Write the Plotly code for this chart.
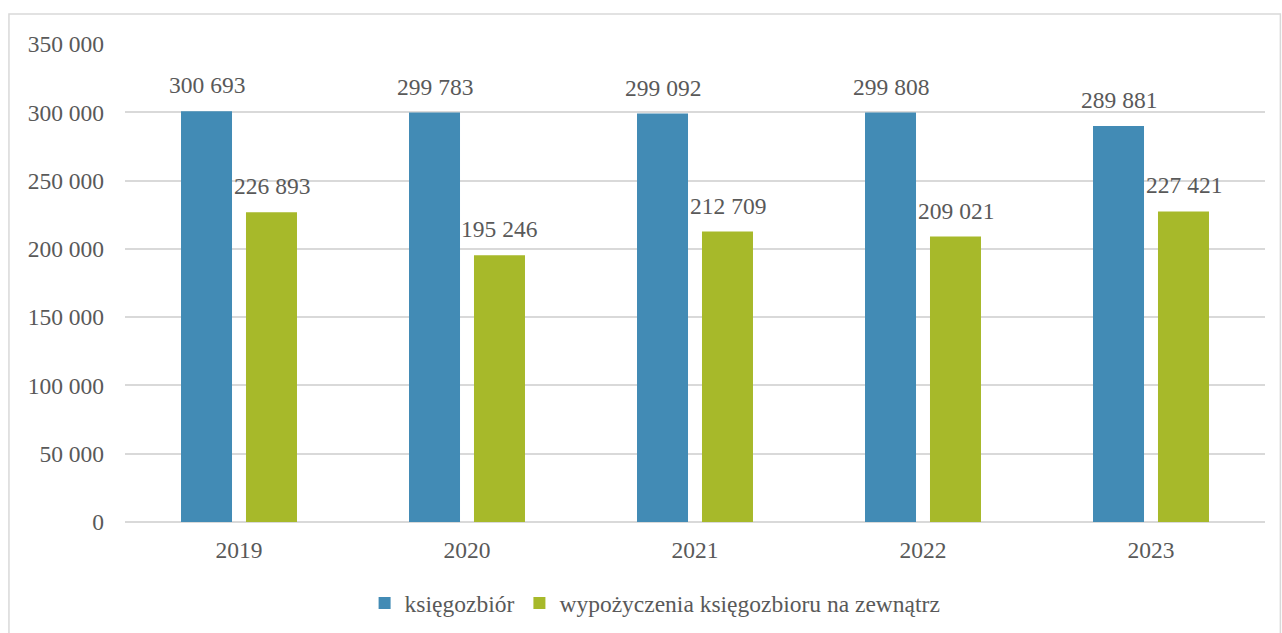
import plotly.graph_objects as go

years = ["2019", "2020", "2021", "2022", "2023"]
ksiegozbior = [300693, 299783, 299092, 299808, 289881]
wypozyczenia = [226893, 195246, 212709, 209021, 227421]
series_names = ["księgozbiór", "wypożyczenia księgozbioru na zewnątrz"]
colors = ["#428BB5", "#A7B92A"]

FONT = "Liberation Serif, Times New Roman, serif"
TXT = "#595959"
FS = 23.5

fig = go.Figure()
for name, vals, col in zip(series_names, [ksiegozbior, wypozyczenia], colors):
    fig.add_trace(go.Bar(x=years, y=vals, name=name, marker=dict(color=col, line=dict(width=0))))

def fmt(v):
    return f"{v:,}".replace(",", " ")

for vals, shift in [(ksiegozbior, -32.5), (wypozyczenia, 32.5)]:
    for i, v in enumerate(vals):
        fig.add_annotation(x=i, y=v, text=fmt(v), showarrow=False, xshift=shift,
                           yanchor="bottom", yshift=11,
                           font=dict(family=FONT, size=FS, color=TXT))

fig.add_shape(type="rect", xref="paper", yref="paper",
              x0=-0.1018, x1=1.0135, y0=-0.3, y1=1.0628,
              line=dict(color="#D9D9D9", width=1.5), fillcolor="rgba(0,0,0,0)", layer="below")

fig.update_layout(
    width=1282, height=633,
    margin=dict(l=125, r=17, t=44, b=111, autoexpand=False),
    paper_bgcolor="white", plot_bgcolor="white",
    barmode="group", bargap=0.43, bargroupgap=0.215,
    separators=", ",
    font=dict(family=FONT, size=FS, color=TXT),
    showlegend=True,
    legend=dict(orientation="h", x=0.465, xanchor="center", y=-0.17, yanchor="middle",
                font=dict(family=FONT, size=FS, color=TXT), itemwidth=30,
                traceorder="normal"),
    xaxis=dict(type="category", range=[-0.5, len(years) - 0.5], showgrid=False,
               showline=False, ticks="", ticklabelstandoff=11,
               tickfont=dict(family=FONT, size=FS, color=TXT)),
    yaxis=dict(range=[0, 350000], dtick=50000, tickformat=",d",
               showgrid=True, gridcolor="#D9D9D9", gridwidth=1.5,
               zeroline=True, zerolinecolor="#D9D9D9", zerolinewidth=1.5,
               showline=False, ticks="", ticklabelstandoff=20,
               tickfont=dict(family=FONT, size=FS, color=TXT)),
)

fig.write_html("out.html", config={"displayModeBar": False},
               post_script="document.body.style.margin='0';")
